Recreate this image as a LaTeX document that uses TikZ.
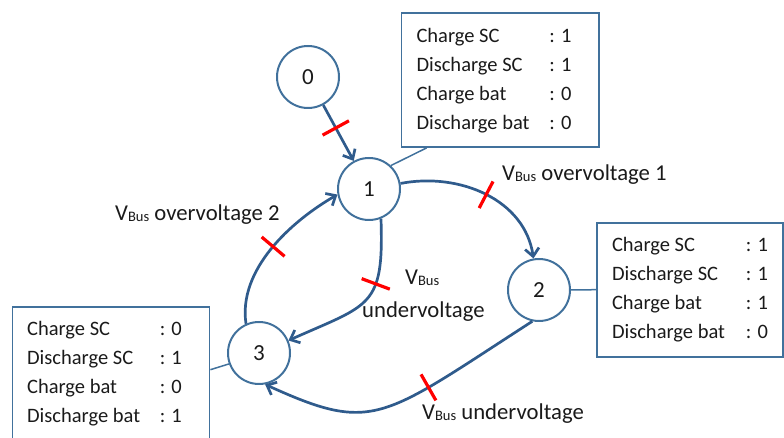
\documentclass[tikz,border=0pt]{standalone}
\usepackage{fontspec}
\setmainfont{Carlito}
\usetikzlibrary{arrows.meta}
\definecolor{nodeblue}{HTML}{41719C}
\definecolor{arrowblue}{HTML}{2F5B8C}
\definecolor{txt}{HTML}{1A1A1A}
\newcommand{\vbus}{V\raisebox{-1pt}{\fontsize{14.5}{14.5}\selectfont Bus}}
\tikzset{
 state/.style={circle, draw=nodeblue, line width=2pt, minimum size=62pt, inner sep=0pt, font=\fontsize{23}{23}\selectfont, text=txt},
 infobox/.style={draw=nodeblue, line width=1.8pt, inner sep=0pt, minimum height=134pt, font=\fontsize{20.5}{29}\selectfont, text=txt},
 trans/.style={draw=arrowblue, line width=2.7pt, -{Straight Barb[length=8pt,width=14pt]}},
 tick/.style={sloped, draw=none, fill=red, inner sep=0pt, minimum width=3.2pt, minimum height=30pt},
 lab/.style={anchor=base west, inner sep=0pt, font=\fontsize{22.7}{26}\selectfont, text=txt},
 link/.style={draw=nodeblue, line width=1.5pt},
}
\begin{document}
\begin{tikzpicture}[x=1pt,y=1pt]
\useasboundingbox (0,0) rectangle (784,438);
% states
\node[state] (n0) at (308,361) {0};
\node[state] (n1) at (369,249) {1};
\node[state] (n2) at (539,148) {2};
\node[state] (n3) at (259,85) {3};
% info boxes
\node[infobox, minimum width=197.5pt] (b1) at (500.25,358) {\begin{tabular}{@{\hspace{15pt}}p{133pt}@{}p{49.5pt}@{}}Charge SC & : 1\\ Discharge SC & : 1\\ Charge bat & : 0\\ Discharge bat & : 0\end{tabular}};
\node[infobox, minimum width=186pt] (b2) at (690,148.3) {\begin{tabular}{@{\hspace{15pt}}p{134pt}@{}p{37pt}@{}}Charge SC & : 1\\ Discharge SC & : 1\\ Charge bat & : 1\\ Discharge bat & : 0\end{tabular}};
\node[infobox, minimum width=197pt] (b3) at (111,64.3) {\begin{tabular}{@{\hspace{14.6pt}}p{132.7pt}@{}p{49.7pt}@{}}Charge SC & : 0\\ Discharge SC & : 1\\ Charge bat & : 0\\ Discharge bat & : 1\end{tabular}};
% box links
\draw[link] ([xshift=26pt]b1.south west) -- (n1.47);
\draw[link] (b2.west) -- (n2.east);
\draw[link] ([yshift=4pt]b3.east) -- (n3.200);
% transitions
\draw[trans] (n0) -- node[tick, pos=0.41] {} (n1);
\draw[trans] (n1.10) .. controls (460,266) and (525,238) .. node[tick, pos=0.5] {} (n2.100);
\draw[trans] (n1.-68) .. controls (384,130) and (370,134) .. node[tick, pos=0.35] {} (n3.23);
\draw[trans] (n3.114) .. controls (238,168) and (290,216) .. node[tick, pos=0.52] {} (n1.190);
\draw[trans] (n2.258) .. controls (381,19) and (374,4) .. node[tick, pos=0.3] {} (n3.-79);
% labels
\node[lab] (l1) at (502,257) {\vbus{} overvoltage 1};
\node[lab] (l2) at (115,217) {\vbus{} overvoltage 2};
\node[lab] (l3a) at (405,153) {\vbus};
\node[lab] (l3b) at (362,120) {undervoltage};
\node[lab] (l4) at (422,18) {\vbus{} undervoltage};
\end{tikzpicture}
\end{document}
